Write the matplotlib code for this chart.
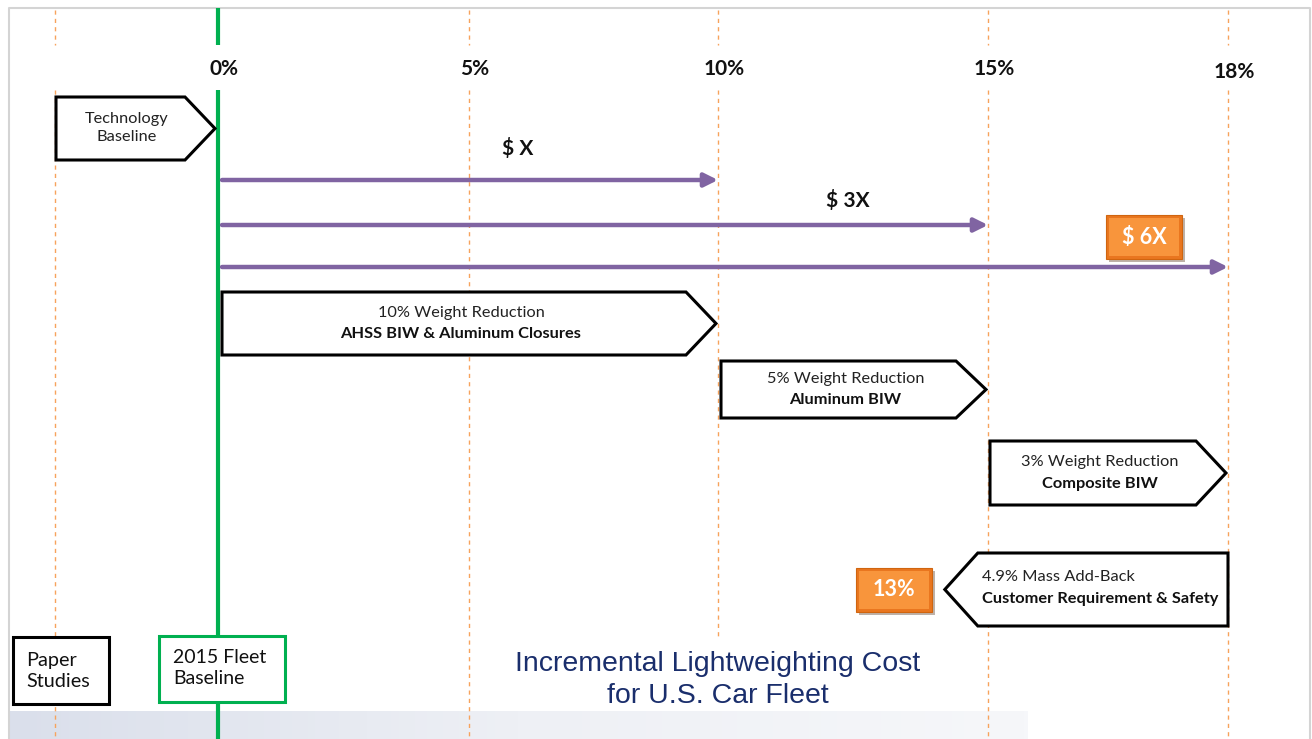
import numpy as np
import matplotlib
matplotlib.use("Agg")
import matplotlib.pyplot as plt
from matplotlib.patches import Polygon, Rectangle
import matplotlib.patheffects as pe

# percent marks along the top
tick_pct = [0, 5, 10, 15, 18]
tick_labels = ["0%", "5%", "10%", "15%", "18%"]

# incremental cost arrows (all start at the 2015 baseline)
cost_end = [10, 15, 18]
cost_labels = ["$ X", "$ 3X", "$ 6X"]

# weight reduction steps
step_start = [0, 10, 15]
step_end = [10, 15, 18]
step_titles = ["10% Weight Reduction", "5% Weight Reduction", "3% Weight Reduction"]
step_techs = ["AHSS BIW & Aluminum Closures", "Aluminum BIW", "Composite BIW"]

# mass add-back (drawn back from 18%)
addback_span = [14.2, 18]
addback_title = "4.9% Mass Add-Back"
addback_tech = "Customer Requirement & Safety"
net_label = "13%"

title = "Incremental Lightweighting Cost\nfor U.S. Car Fleet"

# ---- layout: percent -> pixel column (the slide is not to scale)
KNOT_PCT = [-4.4, 0, 5, 10, 15, 18, 19.1]
KNOT_PX = [0, 218, 469, 718, 988, 1228, 1312]
paper_pct = -3.3


def fwd(v):
    return np.interp(v, KNOT_PCT, KNOT_PX)


def inv(v):
    return np.interp(v, KNOT_PX, KNOT_PCT)


def shift(pct, dpx):
    return float(inv(fwd(pct) + dpx))


FONT = ["Lato", "DejaVu Sans"]
PURPLE = "#8064a2"
ORANGE_LINE = "#f7a35c"
GREEN = "#00b050"
BODY = 11.8

W, H = 1312, 739
fig = plt.figure(figsize=(W / 100, H / 100), dpi=100)

# background axes in pixel units: slide frame and bottom band
bg = fig.add_axes([0, 0, 1, 1])
bg.set_xlim(0, W)
bg.set_ylim(H, 0)
bg.axis("off")
grad = np.linspace(0, 1, 256)[None, :]
cmap = matplotlib.colors.LinearSegmentedColormap.from_list("band", ["#dadfeb", "#eef0f5", "#f6f7fa"])
bg.imshow(grad, cmap=cmap, extent=(9, 1028, H, 711), aspect="auto", zorder=0)
bg.plot([9, 9, 1310, 1310], [H, 8, 8, H], color="#d4d4d4", lw=1.5, zorder=1)

ax = fig.add_axes([0, 0, 1, 1], zorder=2)
ax.patch.set_alpha(0)
ax.set_xscale("function", functions=(fwd, inv))
ax.set_xlim(KNOT_PCT[0], KNOT_PCT[-1])
ax.set_ylim(H, 0)
ax.axis("off")

# vertical guide lines with a gap for the labels
for p in [paper_pct] + tick_pct[1:]:
    ymax = 637 if p == 10 else H
    ax.plot([p, p], [10, 45], color=ORANGE_LINE, lw=1, ls=(0, (3, 3)), zorder=1)
    ax.plot([p, p], [90, ymax], color=ORANGE_LINE, lw=1, ls=(0, (3, 3)), zorder=1)
ax.plot([0, 0], [8, 45], color=GREEN, lw=3, zorder=2, solid_capstyle="butt")
ax.plot([0, 0], [90, H], color=GREEN, lw=3, zorder=2, solid_capstyle="butt")

for p, lab in zip(tick_pct, tick_labels):
    dy = 3 if p == 18 else 0
    ax.text(shift(p, 6), 69 + dy, lab, ha="center", va="center", fontsize=15,
            fontweight="bold", family=FONT, color="#111111")


def pentagon(x0, x1, x2, ytop, ybot, left=False):
    ym = (ytop + ybot) / 2
    if left:
        pts = [(x0, ym), (x1, ytop), (x2, ytop), (x2, ybot), (x1, ybot)]
    else:
        pts = [(x0, ytop), (x1, ytop), (x2, ym), (x1, ybot), (x0, ybot)]
    ax.add_patch(Polygon(pts, closed=True, facecolor="white", edgecolor="black",
                         lw=2.2, joinstyle="miter", zorder=4))


def orange_box(cx, cy, lab):
    x0, x1 = shift(cx, -38), shift(cx, 38)
    ax.add_patch(Rectangle((x0, cy - 22), x1 - x0, 44, facecolor="#e9761f",
                           edgecolor="#d0650f", lw=0.8, zorder=5,
                           path_effects=[pe.SimplePatchShadow(offset=(2, -2), alpha=0.35), pe.Normal()]))
    xi0, xi1 = shift(cx, -35), shift(cx, 35)
    ax.add_patch(Rectangle((xi0, cy - 19), xi1 - xi0, 38, facecolor="#f8953c",
                           edgecolor="none", zorder=5))
    ax.text(cx, cy, lab, ha="center", va="center", fontsize=15.5, fontweight="bold",
            family=FONT, color="white", zorder=6)


# technology baseline
pentagon(shift(0, -162), shift(0, -33), shift(0, -3), 97, 160)
ax.text(shift(0, -91), 128, "Technology\nBaseline", ha="center", va="center",
        fontsize=BODY, family=FONT, color="#222222", linespacing=1.3, zorder=5)

# cost arrows
arrow_y = [180, 225, 267]
cost_label_dx = [-200, -140, -84]
cost_label_y = [149, 201, 237]
for end, y, lab, dx, ly in zip(cost_end, arrow_y, cost_labels, cost_label_dx, cost_label_y):
    ax.annotate("", xy=(end, y), xytext=(shift(0, 4), y),
                arrowprops=dict(arrowstyle="-|>", color=PURPLE, lw=3.2,
                                mutation_scale=20, shrinkA=0, shrinkB=0),
                zorder=3)
    if lab == cost_labels[-1]:
        orange_box(shift(end, dx), ly, lab)
    else:
        ax.text(shift(end, dx), ly, lab, ha="center", va="center", fontsize=15,
                fontweight="bold", family=FONT, color="#111111", zorder=5)

# weight reduction steps
step_top = [292, 361, 441]
step_bot = [355, 418, 505]
step_gap = [4, 3, 2]
for s, e, t0, t1, g, ttl, tech in zip(step_start, step_end, step_top, step_bot,
                                       step_gap, step_titles, step_techs):
    x0 = shift(s, g)
    x1 = shift(e, -32)
    x2 = shift(e, -2)
    pentagon(x0, x1, x2, t0, t1)
    cx = inv((fwd(x0) + fwd(x1)) / 2 + 7)
    ym = (t0 + t1) / 2
    ax.text(cx, ym - 11, ttl, ha="center", va="center", fontsize=BODY,
            family=FONT, color="#222222", zorder=5)
    ax.text(cx, ym + 11, tech, ha="center", va="center", fontsize=BODY,
            fontweight="bold", family=FONT, color="#111111", zorder=5)

# mass add-back
a0, a1 = addback_span
pentagon(a0, shift(a0, 33), a1, 553, 626, left=True)
ax.text(shift(a0, 37), 577, addback_title, ha="left", va="center", fontsize=BODY,
        family=FONT, color="#222222", zorder=5)
ax.text(shift(a0, 37), 599, addback_tech, ha="left", va="center", fontsize=BODY,
        fontweight="bold", family=FONT, color="#111111", zorder=5)
orange_box(shift(a0, -51), 590, net_label)

# bottom boxes
p0, p1 = shift(paper_pct, -42), shift(paper_pct, 54)
ax.add_patch(Rectangle((p0, 637), p1 - p0, 67, facecolor="white", edgecolor="black",
                       lw=2.2, zorder=4))
ax.text(shift(paper_pct, -28), 671, "Paper\nStudies", ha="left", va="center",
        fontsize=14.3, family=FONT, color="#111111", linespacing=1.3, zorder=5)

f0, f1 = shift(0, -59), shift(0, 67)
ax.add_patch(Rectangle((f0, 636), f1 - f0, 66, facecolor="white", edgecolor=GREEN,
                       lw=2.2, zorder=4))
ax.text(shift(0, -45), 668, "2015 Fleet\nBaseline", ha="left", va="center",
        fontsize=14, family=FONT, color="#111111", linespacing=1.3, zorder=5)

ax.text(10, 680, title, ha="center", va="center", fontsize=20.5,
        family=["Liberation Sans", "DejaVu Sans"], color="#1a2e6c",
        linespacing=1.3, zorder=5)

fig.savefig("out.png", dpi=100)
